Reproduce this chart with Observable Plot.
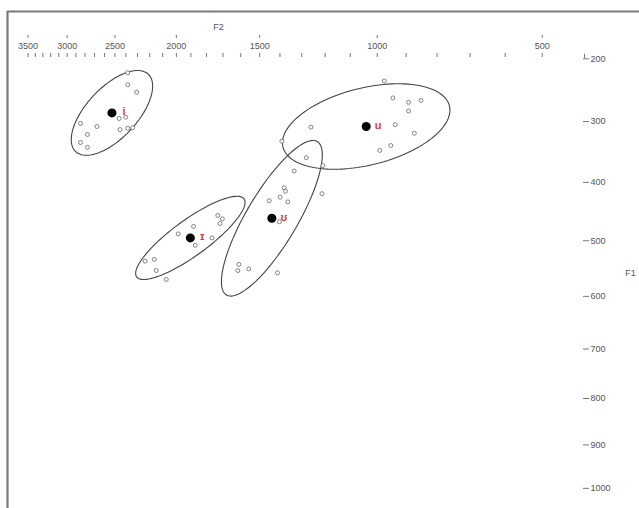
<!DOCTYPE html>
<html><head><meta charset="utf-8">
<script src="https://cdn.jsdelivr.net/npm/d3@7"></script>
<script src="https://cdn.jsdelivr.net/npm/@observablehq/plot@0.6"></script>
<style>html,body{margin:0;padding:0;background:#fff;overflow:hidden}</style>
</head><body><div id="chart"></div>
<script>
// Vowel labels and token formant values (Hz)
const vowels = ["i", "ɪ", "ʊ", "u"];
const iF1 = [222, 241, 253, 295, 293, 313, 311, 310, 303, 308, 321, 334, 342];
const iF2 = [2384, 2384, 2307, 2461, 2401, 2453, 2384, 2341, 2849, 2675, 2774, 2849, 2774];
const ihF1 = [456, 462, 470, 475, 488, 495, 508, 536, 533, 553, 569];
const ihF2 = [1731, 1704, 1718, 1883, 1987, 1766, 1872, 2237, 2164, 2149, 2073];
const uhF1 = [359, 372, 381, 419, 409, 415, 425, 431, 433, 467, 542, 553, 550, 557];
const uhF2 = [1280, 1209, 1334, 1213, 1380, 1374, 1399, 1452, 1363, 1403, 1610, 1616, 1557, 1412];
const uF1 = [309, 262, 269, 266, 283, 305, 319, 339, 347, 235, 332];
const uF2 = [1260, 945, 892, 851, 892, 937, 873, 952, 991, 975, 1391];
// Vowel means (Hz)
const meanF1 = [286, 495, 461, 308];
const meanF2 = [2528, 1904, 1439, 1040];
// Axis ticks (Hz)
const f2Major = [3500, 3000, 2500, 2000, 1500, 1000, 500];
const f2Minor = d3.range(500, 3501, 100);
const f1Ticks = [200, 300, 400, 500, 600, 700, 800, 900, 1000];
const f2Extent = [257, 3800];
const f1Extent = [126, 1049];

// Zwicker Bark transform
const bark = f => 13 * Math.atan(0.00076 * f) + 3.5 * Math.atan((f / 7500) ** 2);

const groups = [[iF1, iF2], [ihF1, ihF2], [uhF1, uhF2], [uF1, uF2]];
const tokens = groups.flatMap(([f1s, f2s], g) => f1s.map((f1, j) => ({vowel: vowels[g], f1, f2: f2s[j]})));
const means = vowels.map((v, g) => ({vowel: v, f1: meanF1[g], f2: meanF2[g]}));

const K = 1.9;
function ellipse(f1s, f2s, cf1, cf2, vowel) {
  const xs = f2s.map(bark), ys = f1s.map(bark), n = xs.length;
  const mx = d3.mean(xs), my = d3.mean(ys);
  let sxx = 0, syy = 0, sxy = 0;
  for (let i = 0; i < n; i++) { sxx += (xs[i]-mx)**2; syy += (ys[i]-my)**2; sxy += (xs[i]-mx)*(ys[i]-my); }
  sxx /= n - 1; syy /= n - 1; sxy /= n - 1;
  const a = Math.sqrt(sxx), b = sxy / a, c = Math.sqrt(Math.max(syy - b*b, 0));
  const cx = bark(cf2), cy = bark(cf1);
  return d3.range(0, 360, 3).map(deg => {
    const t = deg * Math.PI / 180, u = Math.cos(t), v = Math.sin(t);
    return {vowel, x: cx + K * a * u, y: cy + K * (b * u + c * v)};
  });
}
const ellipses = groups.flatMap(([f1s, f2s], g) => ellipse(f1s, f2s, meanF1[g], meanF2[g], vowels[g]));

const chart = Plot.plot({
  width: 639, height: 508,
  marginLeft: 7, marginTop: 11, marginRight: 0, marginBottom: 0,
  x: {domain: f2Extent.map(bark), reverse: true, axis: null},
  y: {domain: f1Extent.map(bark), reverse: true, axis: null},
  style: {fontFamily: "'Liberation Sans', Arial, sans-serif", background: "white"},
  marks: [
    Plot.ruleX([f2Extent[1]], {x: bark, stroke: "#7a7a7a", strokeWidth: 2.2}),
    Plot.ruleY([f1Extent[0]], {y: bark, stroke: "#7a7a7a", strokeWidth: 2.2}),
    Plot.ruleX(f2Minor, {x: bark, insetTop: 42, insetBottom: 451, stroke: "#666", strokeWidth: 0.9}),
    Plot.ruleX(f2Major, {x: bark, insetTop: 24, insetBottom: 470, stroke: "#666", strokeWidth: 0.9}),
    Plot.text(f2Major, {x: bark, frameAnchor: "top", dy: 35, text: d => String(d), textAnchor: "middle", lineAnchor: "middle", fontSize: 9, fill: "#555"}),
    Plot.text(["F2"], {frameAnchor: "top-left", dx: 211, dy: 16, text: d => d, textAnchor: "middle", lineAnchor: "middle", fontSize: 9, fill: "#555"}),
    Plot.ruleY(f1Ticks, {y: bark, insetLeft: 576, insetRight: 50, stroke: "#666", strokeWidth: 0.9}),
    Plot.ruleX([f1Ticks[0]], {x: () => bark(f2Extent[0]), y1: d => bark(d) - 0.07, y2: d => bark(d), dx: -55, stroke: "#666", strokeWidth: 0.9}),
    Plot.text(f1Ticks, {y: bark, frameAnchor: "right", dx: -49, text: d => String(d), textAnchor: "start", lineAnchor: "middle", fontSize: 9, fill: "#555"}),
    Plot.text(["F1"], {frameAnchor: "right", dx: -9, dy: 13, text: d => d, textAnchor: "middle", lineAnchor: "middle", fontSize: 9, fill: "#555"}),
    Plot.line(ellipses, {x: "x", y: "y", z: "vowel", curve: "linear-closed", stroke: "#444", strokeWidth: 1.1}),
    Plot.dot(tokens, {x: d => bark(d.f2), y: d => bark(d.f1), r: 2, stroke: "#666", strokeWidth: 0.8, fill: "white"}),
    Plot.dot(means, {x: d => bark(d.f2), y: d => bark(d.f1), r: 4.5, fill: "black"}),
    Plot.text(means, {x: d => bark(d.f2), y: d => bark(d.f1), text: "vowel", dx: 12, dy: -1, fill: "#e03a3a", fontSize: 11, fontWeight: "bold"})
  ]
});
document.getElementById("chart").appendChild(chart);
</script>
</body></html>
